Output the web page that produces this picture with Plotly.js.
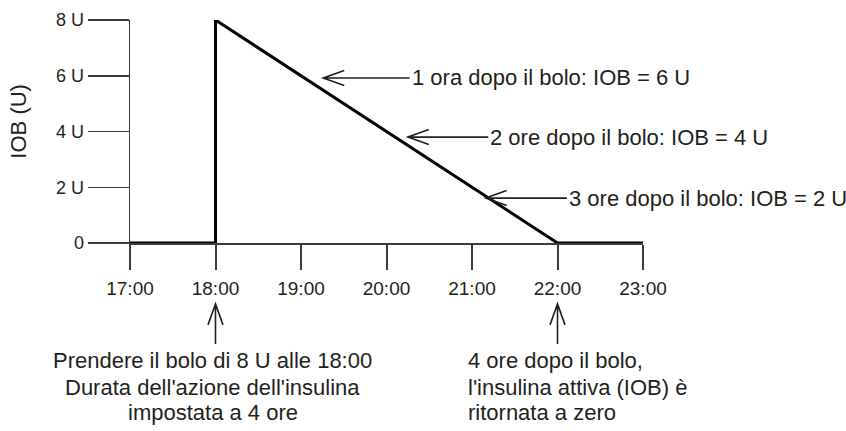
<!DOCTYPE html>
<html>
<head>
<meta charset="utf-8">
<script src="https://cdn.plot.ly/plotly-3.0.1.min.js"></script>
<style>
  html, body { margin: 0; padding: 0; background: #fff; }
  #iob-plot { width: 846px; height: 431px; }
</style>
</head>
<body>
<div id="iob-plot"></div>
<script>
// hours after midnight, and insulin on board (units)
const hours = [17, 18, 18, 22, 23]
const iob = [0, 0, 8, 0, 0]

const hourTicks = [17, 18, 19, 20, 21, 22, 23]
const hourLabels = ['17:00', '18:00', '19:00', '20:00', '21:00', '22:00', '23:00']
const unitTicks = [0, 2, 4, 6, 8]
const unitLabels = ['0', '2 U', '4 U', '6 U', '8 U']

const noteTexts = [
  '1 ora dopo il bolo: IOB = 6 U',
  '2 ore dopo il bolo: IOB = 4 U',
  '3 ore dopo il bolo: IOB = 2 U',
]
const bolusLines = [
  'Prendere il bolo di 8 U alle 18:00',
  "Durata dell'azione dell'insulina",
  'impostata a 4 ore',
]
const zeroLines = [
  '4 ore dopo il bolo,',
  "l'insulina attiva (IOB) è",
  'ritornata a zero',
]

const FONT = '"Liberation Sans Narrow", "Arial Narrow", "Liberation Sans", sans-serif'
const INK = '#231f20'
const AXIS = '#3c3c3c'

// arrow heads of the side notes (data coords) and where the text starts
const noteHeads = [[19.26, 5.92], [20.25, 3.80], [21.16, 1.61]]
const noteTextX = [20.27, 21.19, 22.11]

const Plotly = window.Plotly

let annotations = []
let shapes = []

noteTexts.forEach((txt, i) => {
  const [hx, hy] = noteHeads[i]
  annotations.push({
    x: noteTextX[i], y: hy, xref: 'x', yref: 'y',
    xanchor: 'left', yanchor: 'middle',
    text: txt, showarrow: false,
    font: {family: FONT, size: 22, color: INK},
  })
  // open arrow pointing left
  const len = (noteTextX[i] - hx) * 85.5
  shapes.push({
    type: 'path', xref: 'x', yref: 'y',
    xsizemode: 'pixel', ysizemode: 'pixel',
    xanchor: hx, yanchor: hy,
    path: `M0,0 L${len.toFixed(1)},0 M21,7.5 L0,0 L21,-7.5`,
    line: {color: INK, width: 1.6},
  })
})

// up arrows under 18:00 and 22:00
;[18, 22].forEach(hx => {
  shapes.push({
    type: 'path', xref: 'x', yref: 'paper',
    xsizemode: 'pixel', ysizemode: 'pixel',
    xanchor: hx, yanchor: -0.273,
    path: 'M0,0 L0,-40 M-7.5,-21 L0,0 L7.5,-21',
    line: {color: INK, width: 1.6},
  })
})

const lineY = [-0.525, -0.646, -0.762]
bolusLines.forEach((txt, i) => {
  annotations.push({
    x: 17.97, y: lineY[i], xref: 'x', yref: 'paper',
    xanchor: 'center', yanchor: 'middle',
    text: txt, showarrow: false,
    font: {family: FONT, size: 22, color: INK},
  })
})
zeroLines.forEach((txt, i) => {
  annotations.push({
    x: 20.93, y: lineY[i], xref: 'x', yref: 'paper',
    xanchor: 'left', yanchor: 'middle',
    text: txt, showarrow: false,
    font: {family: FONT, size: 22, color: INK},
  })
})

annotations.push({
  x: -0.218, y: 0.545, xref: 'paper', yref: 'paper',
  xanchor: 'center', yanchor: 'middle',
  text: 'IOB (U)', textangle: -90, showarrow: false,
  font: {family: FONT, size: 22, color: INK},
})

const trace = {
  x: hours,
  y: iob,
  type: 'scatter',
  mode: 'lines',
  line: {color: '#000', width: 3},
  cliponaxis: false,
  hoverinfo: 'skip',
}

const layout = {
  width: 846,
  height: 431,
  margin: {l: 130, r: 203, t: 20, b: 188},
  paper_bgcolor: '#fff',
  plot_bgcolor: '#fff',
  showlegend: false,
  font: {family: FONT, color: INK},
  xaxis: {
    range: [17, 23],
    tickvals: hourTicks,
    ticktext: hourLabels,
    ticks: 'outside', ticklen: 25, tickwidth: 2, tickcolor: AXIS,
    ticklabelstandoff: 3,
    showline: true, linecolor: AXIS, linewidth: 1.5,
    showgrid: false, zeroline: false,
    tickfont: {family: FONT, size: 19, color: INK},
    fixedrange: true,
  },
  yaxis: {
    range: [0, 8],
    tickvals: unitTicks,
    ticktext: unitLabels,
    ticks: 'outside', ticklen: 41, tickwidth: 1.5, tickcolor: AXIS,
    showline: true, linecolor: AXIS, linewidth: 1.5,
    showgrid: false, zeroline: false,
    tickfont: {family: FONT, size: 18, color: INK},
    fixedrange: true,
  },
  annotations,
  shapes,
}

Plotly.newPlot('iob-plot', [trace], layout, {staticPlot: true, displayModeBar: false})
</script>
</body>
</html>
